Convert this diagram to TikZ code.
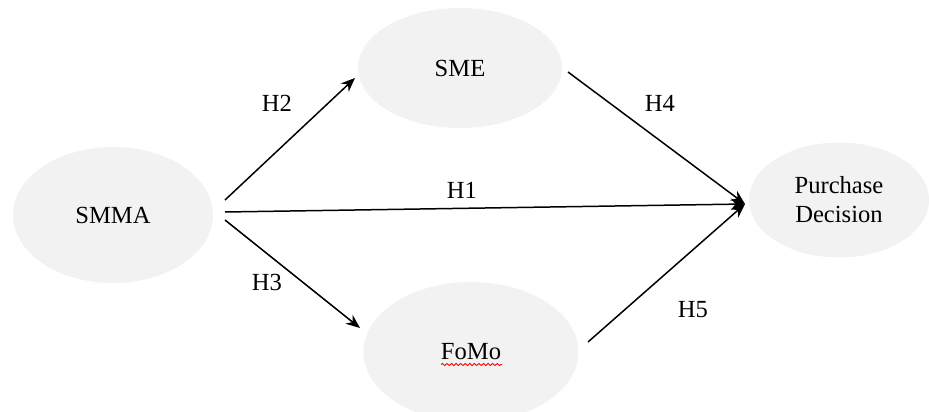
\documentclass[tikz,border=0pt]{standalone}
\usepackage{fontspec}
\setmainfont{Liberation Serif}
\usetikzlibrary{arrows.meta,shapes.geometric,decorations.pathmorphing}

\begin{document}
\begin{tikzpicture}[->,>={Stealth[length=8pt,width=6.5pt]},line width=0.85pt,
  font=\fontsize{14}{16.5}\selectfont,
  main node/.style={ellipse,fill=black!5,draw=none,align=center,inner sep=0pt}]
  \useasboundingbox (0,0) rectangle (18.58,8.22);

  \node[main node,minimum width=4cm,minimum height=2.72cm] (smma) at (2.26,3.92) {SMMA};
  \node[main node,minimum width=4.08cm,minimum height=2.4cm] (sme) at (9.2,6.86) {SME};
  \node[main node,minimum width=4.3cm,minimum height=2.8cm] (fomo) at (9.42,1.18) {FoMo};
  \node[main node,minimum width=3.6cm,minimum height=2.3cm] (pd) at (16.78,4.22) {Purchase\\Decision};

  % start and end points of the paths
  \coordinate (s2) at (4.5,4.22);
  \coordinate (s1) at (4.5,3.98);
  \coordinate (s3) at (4.5,3.82);
  \coordinate (e2) at (7.1,6.66);
  \coordinate (e3) at (7.2,1.66);
  \coordinate (s4) at (11.36,6.78);
  \coordinate (s5) at (11.76,1.38);
  \coordinate (hub) at (14.9,4.14);

  \draw (s2) -- (e2);
  \draw (s1) -- (hub);
  \draw (s3) -- (e3);
  \draw (s4) -- (hub);
  \draw (s5) -- (hub);

  \node (h2) at (5.54,6.16) {H2};
  \node (h1) at (9.24,4.42) {H1};
  \node (h3) at (5.34,2.58) {H3};
  \node (h4) at (13.2,6.16) {H4};
  \node (h5) at (13.86,2.02) {H5};

  % spell check mark
  \draw[-,red,line width=0.5pt,decorate,decoration={snake,amplitude=0.6pt,segment length=2.6pt}]
    ([xshift=-0.6cm,yshift=-0.25cm]fomo.center) -- ([xshift=0.62cm,yshift=-0.25cm]fomo.center);
\end{tikzpicture}
\end{document}
